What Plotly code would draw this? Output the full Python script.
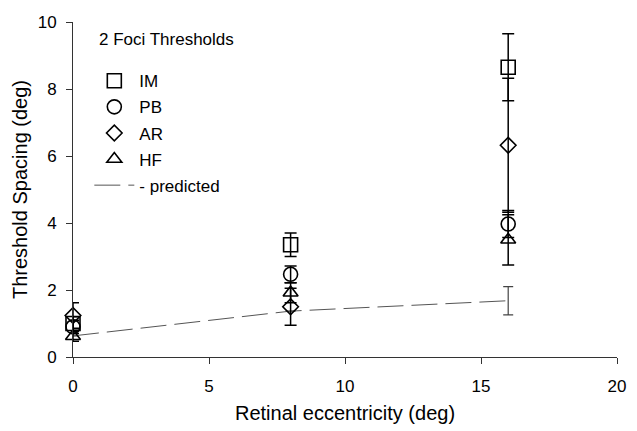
import plotly.graph_objects as go

# Data
ecc = [0, 8, 16]
series_names = ["IM", "PB", "AR", "HF"]
im_vals = [1.0, 3.35, 8.65]
im_err = [0.2, 0.35, 1.0]
pb_vals = [0.9, 2.47, 3.97]
pb_err = [0.2, 0.25, 0.4]
ar_vals = [1.24, 1.5, 6.32]
ar_err = [0.38, 0.55, 2.0]
hf_vals = [0.62, 1.92, 3.5]
hf_err = [0.15, 0.3, 0.75]
pred_x = [0, 8, 16]
pred_vals = [0.63, 1.37, 1.68]
pred_err = [0.0, 0.0, 0.42]

x_ticks = [0, 5, 10, 15, 20]
y_ticks = [0, 2, 4, 6, 8, 10]
legend_title = "2 Foci Thresholds"

FONT = "Liberation Sans, Arial, sans-serif"

fig = go.Figure()

fig.add_trace(go.Scatter(
    x=pred_x, y=pred_vals, mode="lines", name="- predicted",
    line=dict(color="#555555", width=1, dash="26px,8px"),
    error_y=dict(type="data", array=pred_err, visible=True, color="#444444",
                 thickness=1.2, width=5),
    legendgroup="e", legendrank=5, cliponaxis=False,
))

specs = [
    ("IM", im_vals, im_err, "square-open", 14),
    ("PB", pb_vals, pb_err, "circle-open", 14),
    ("AR", ar_vals, ar_err, "diamond-open", 12),
    ("HF", hf_vals, hf_err, "triangle-up-open", 13),
]
for i, (name, vals, err, sym, size) in enumerate(specs):
    fig.add_trace(go.Scatter(
        x=ecc, y=vals, mode="markers", name=name,
        marker=dict(symbol=sym, size=size, color="black", line=dict(width=1.6, color="black")),
        error_y=dict(type="data", array=err, visible=True, color="black",
                     thickness=1.5, width=6),
        legendgroup=name, legendrank=i + 1, cliponaxis=False,
    ))

fig.add_annotation(
    text=legend_title, xref="paper", yref="paper",
    x=0.045, y=0.947, xanchor="left", yanchor="middle",
    showarrow=False, font=dict(size=17),
)

fig.update_layout(
    width=637, height=431,
    margin=dict(l=73, r=11, t=22, b=67),
    paper_bgcolor="white", plot_bgcolor="white",
    font=dict(family=FONT, size=17, color="black"),
    showlegend=True,
    legend=dict(
        x=0.03, y=0.877, xanchor="left", yanchor="top",
        bgcolor="rgba(0,0,0,0)", traceorder="grouped",
        tracegroupgap=1, itemwidth=40,
        font=dict(size=17),
    ),
    xaxis=dict(
        range=[0, 20], tickvals=x_ticks, ticks="outside", ticklen=6,
        tickcolor="#333333", showline=True, linecolor="#333333", linewidth=1,
        showgrid=False, zeroline=False, ticklabelstandoff=8,
        title=dict(text="Retinal eccentricity (deg)", standoff=10),
    ),
    yaxis=dict(
        range=[0, 10], tickvals=y_ticks, ticks="outside", ticklen=6,
        tickcolor="#333333", showline=True, linecolor="#333333", linewidth=1,
        showgrid=False, zeroline=False, ticklabelstandoff=6,
        title=dict(text="Threshold Spacing (deg)", standoff=4),
    ),
)

fig.write_html("out.html")
